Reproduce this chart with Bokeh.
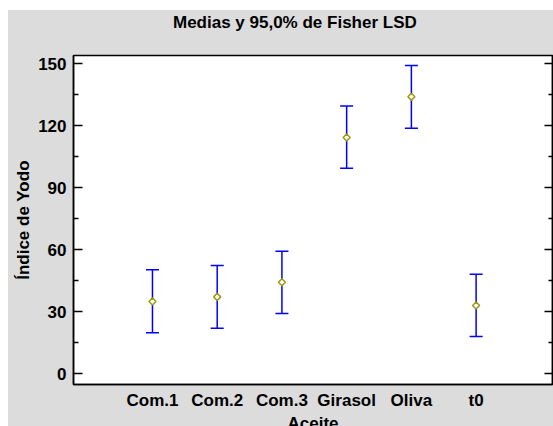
import numpy as np
from bokeh.plotting import figure
from bokeh.models import (ColumnDataSource, Whisker, TeeHead, FixedTicker,
                          LinearAxis, Spacer, Div)
from bokeh.layouts import column, row
from bokeh.embed import file_html
from bokeh.resources import INLINE

# ---- data ----
aceites = ["Com.1", "Com.2", "Com.3", "Girasol", "Oliva", "t0"]
medias = [35.0, 37.2, 44.3, 114.3, 134.0, 33.0]
inferior = [19.8, 22.0, 29.2, 99.4, 118.8, 18.0]
superior = [50.3, 52.4, 59.3, 129.6, 149.2, 48.1]
y_ticks = [0, 30, 60, 90, 120, 150]
y_minor = [15, 45, 75, 105, 135]
titulo = "Medias y 95,0% de Fisher LSD"

xs = list(range(1, len(aceites) + 1))
src = ColumnDataSource(dict(x=xs, m=medias, lo=inferior, hi=superior))

FONT = "Liberation Sans"
GRAY = "#dcdcdc"
x_start, x_end = -0.22, 7.18
y_start, y_end = -5.2, 154.0

p = figure(width=545, height=396, x_range=(x_start, x_end), y_range=(y_start, y_end),
           output_backend="svg", toolbar_location=None,
           min_border_left=65, min_border_right=1, min_border_top=15, min_border_bottom=52,
           background_fill_color="white", border_fill_color=GRAY,
           outline_line_color="black", outline_line_width=1.5)
p.grid.visible = False

# error bars
w = Whisker(base="x", lower="lo", upper="hi", source=src, line_color="#0000ff", line_width=1.5,
            upper_head=TeeHead(size=13, line_color="#0000ff", line_width=1.5),
            lower_head=TeeHead(size=13, line_color="#0000ff", line_width=1.5))
p.add_layout(w)

p.scatter("x", "m", source=src, marker="square", angle=np.pi / 4, size=5,
          line_color="#9a9a1a", fill_color="#ffffee", line_width=1.5)

# left axis
yt = FixedTicker(ticks=y_ticks, minor_ticks=y_minor)
ya = p.yaxis[0]
ya.ticker = yt
ya.major_tick_in = 9
ya.major_tick_out = 0
ya.minor_tick_in = 5
ya.minor_tick_out = 0
ya.axis_line_color = "black"
ya.axis_line_width = 1.5
ya.major_tick_line_width = 1.5
ya.minor_tick_line_width = 1.5
ya.major_label_text_font = FONT
ya.major_label_text_font_size = "17px"
ya.major_label_text_font_style = "bold"
ya.major_label_text_color = "black"
ya.major_label_standoff = 7
ya.axis_label = "Índice de Yodo"
ya.axis_label_text_font = FONT
ya.axis_label_text_font_size = "17px"
ya.axis_label_text_font_style = "bold"
ya.axis_label_text_color = "black"
ya.axis_label_standoff = 2

# right axis (ticks only)
ra = LinearAxis(ticker=FixedTicker(ticks=y_ticks, minor_ticks=y_minor),
                major_tick_in=8, major_tick_out=0, minor_tick_in=4, minor_tick_out=0,
                major_tick_line_width=1.5, minor_tick_line_width=1.5,
                major_label_overrides={t: "" for t in y_ticks}, major_label_standoff=0,
                axis_line_color="black", axis_line_width=1.5)
p.add_layout(ra, "right")

# bottom axis
xa = p.xaxis[0]
xa.ticker = FixedTicker(ticks=xs)
xa.major_label_overrides = {x: name for x, name in zip(xs, aceites)}
xa.major_tick_in = 0
xa.major_tick_out = 0
xa.minor_tick_in = 0
xa.minor_tick_out = 0
xa.axis_line_color = "black"
xa.axis_line_width = 1.5
xa.major_label_text_font = FONT
xa.major_label_text_font_size = "17px"
xa.major_label_text_font_style = "bold"
xa.major_label_text_color = "black"
xa.major_label_standoff = 6
xa.axis_label = "Aceite"
xa.axis_label_text_font = FONT
xa.axis_label_text_font_size = "17px"
xa.axis_label_text_font_style = "bold"
xa.axis_label_text_color = "black"
xa.axis_label_standoff = 1

# title band above the figure
title_div = Div(
    text=('<div style="margin:0;padding:3px 0 0 165px;font-family:\'Liberation Sans\';'
          'font-size:17px;font-weight:bold;color:black;white-space:nowrap;'
          'line-height:1.15">' + titulo + '</div>'),
    width=545, height=30, margin=0, styles={"background-color": GRAY})

panel = column(title_div, p, styles={"background-color": GRAY})

# the page window cuts the chart at its bottom, as in the reference
layout = column(Spacer(height=10), row(Spacer(width=8), panel),
                width=553, height=426, styles={"overflow": "hidden"})
open("out.html", "w").write(file_html(layout, INLINE))
